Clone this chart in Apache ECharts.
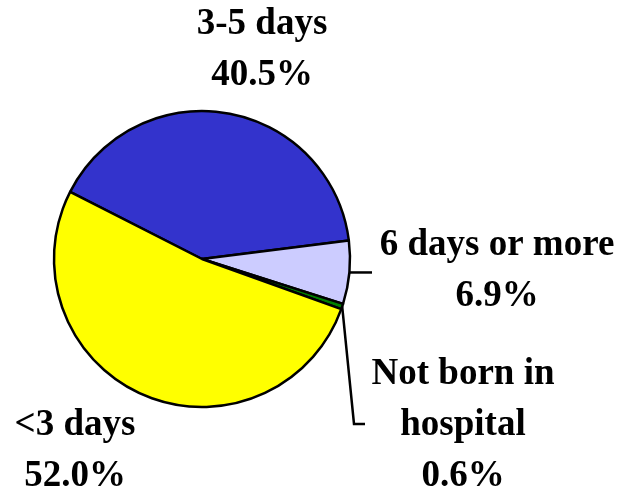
<!DOCTYPE html>
<html>
<head>
<meta charset="utf-8">
<script src="https://cdn.jsdelivr.net/npm/echarts@6/dist/echarts.min.js"></script>
<style>
  html, body { margin: 0; padding: 0; background: #fff; }
  #pie { width: 621px; height: 501px; }
</style>
</head>
<body>
<div id="pie"></div>
<script>
// slices in clockwise order, starting at the upper-left edge
const categories = ['3-5 days', '6 days or more', 'Not born in hospital', '<3 days'];
const labelNames = ['3-5 days', '6 days or more', 'Not born in\nhospital', '<3 days'];
const shares = [40.5, 6.9, 0.6, 52.0];
const sliceColors = ['#3333CC', '#CCCCFF', '#008000', '#FFFF00'];

const center = [202, 259];
const radius = 148;
const startAngle = 153;
// label block centres
const labelSpots = [[262, 50], [497, 271], [463, 425], [75, 451]];

const chart = echarts.init(document.getElementById('pie'));

// mid angle of a slice, for leader lines
function midPoint(idx) {
    const total = shares.reduce((a, b) => a + b, 0);
    let before = 0;
    for (let i = 0; i < idx; i++) before += shares[i];
    const ang = (startAngle - 360 * (before + shares[idx] / 2) / total) * Math.PI / 180;
    return [center[0] + radius * Math.cos(ang), center[1] - radius * Math.sin(ang)];
}

const p1 = midPoint(1);
const p2 = midPoint(2);

const options = {
    animation: false,
    series: [{
        type: 'pie',
        center: center,
        radius: radius,
        startAngle: startAngle,
        clockwise: true,
        silent: true,
        itemStyle: {
            borderColor: '#000',
            borderWidth: 2.5
        },
        label: {
            show: true,
            position: 'inside',
            overflow: 'none',
            color: '#000',
            fontFamily: 'Liberation Serif',
            fontWeight: 'bold',
            fontSize: 37,
            lineHeight: 51,
            align: 'center',
            formatter: (p) => labelNames[p.dataIndex] + '\n' + p.value.toFixed(1) + '%'
        },
        labelLine: { show: false },
        labelLayout: (params) => {
            const s = labelSpots[params.dataIndex];
            return { x: s[0], y: s[1], align: 'center', verticalAlign: 'middle' };
        },
        data: categories.map((c, i) => ({
            name: c,
            value: shares[i],
            itemStyle: { color: sliceColors[i] }
        }))
    }],
    graphic: [
        {
            type: 'polyline',
            shape: { points: [[p1[0], p1[1]], [372, p1[1]]] },
            style: { stroke: '#000', lineWidth: 2.5, fill: null }
        },
        {
            type: 'polyline',
            shape: { points: [[p2[0], p2[1]], [354, 424], [365, 424]] },
            style: { stroke: '#000', lineWidth: 2.5, fill: null }
        }
    ]
};
chart.setOption(options);
</script>
</body>
</html>
